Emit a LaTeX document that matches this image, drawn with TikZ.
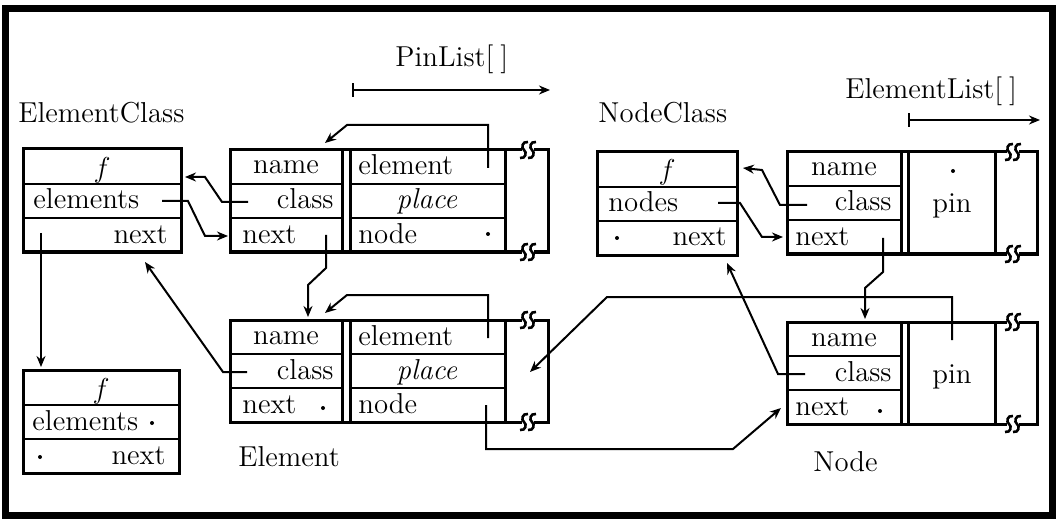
\documentclass[tikz,border=0pt]{standalone}
\usetikzlibrary{arrows.meta}
\newcommand\BrkMark[2]{%
  \foreach \dd in {-4,4}{%
    \draw[brk] ({#1+\dd-4},{#2+8}) .. controls ({#1+\dd+2},{#2+9}) and ({#1+\dd+3},{#2+2}) .. ({#1+\dd},{#2}) .. controls ({#1+\dd-3},{#2-2}) and ({#1+\dd-2},{#2-9}) .. ({#1+\dd+4},{#2-8});}}
\newcommand\ElemBox[3]{%
  \begin{scope}[shift={(#2,#3)}]
    \draw[outl] (292,0) -- (0,0) -- (0,102) -- (292,102);
    \draw[outl] (304,0) -- (318,0) -- (318,102) -- (304,102);
    \BrkMark{298}{0}\BrkMark{298}{102}
    \draw[outl] (112,0) -- (112,102) (120,0) -- (120,102) (275,0) -- (275,102);
    \draw[rowl] (0,34) -- (112,34) (120,34) -- (275,34) (0,68) -- (112,68) (120,68) -- (275,68);
    \node[fld]  (#1name)    at (56,24)  {name};
    \node[flde] (#1class)   at (104,59) {class};
    \node[fldw] (#1next)    at (12,93)  {next};
    \node[fldw] (#1element) at (128,25) {element};
    \node[fld]  (#1place)   at (197,59) {\textit{place}};
    \node[fldw] (#1node)    at (128,93) {node};
  \end{scope}}
\newcommand\NodeBox[3]{%
  \begin{scope}[shift={(#2,#3)}]
    \draw[outl] (220,0) -- (0,0) -- (0,102) -- (220,102);
    \draw[outl] (232,0) -- (250,0) -- (250,102) -- (232,102);
    \BrkMark{226}{0}\BrkMark{226}{102}
    \draw[outl] (114,0) -- (114,102) (121,0) -- (121,102) (208,0) -- (208,102);
    \draw[rowl] (0,34) -- (114,34) (0,68) -- (114,68);
    \node[fld]  (#1name)  at (57,24)  {name};
    \node[flde] (#1class) at (105,59) {class};
    \node[fldw] (#1next)  at (8,93)   {next};
    \node[fld]  (#1pin)   at (165,61) {pin};
  \end{scope}}
\newcommand\ClassBox[4]{%
  \begin{scope}[shift={(#2,#3)}]
    \draw[outl] (0,0) rectangle (#4,103);
    \draw[rowl] (0,35) -- (#4,35) (0,69) -- (#4,69);
    \node[fld] (#1f) at ({#4/2},28) {$f$};
  \end{scope}}
\begin{document}
\begin{tikzpicture}[x=0.5pt,y=-0.5pt,
  font=\fontsize{14.4}{17}\selectfont,
  frame/.style={line width=3.5pt},
  outl/.style={line width=1.5pt},
  rowl/.style={line width=1.2pt},
  brk/.style={line width=1.3pt},
  ptr/.style={line width=1pt,-{Stealth[length=5.5pt,width=4.5pt]}},
  fld/.style={inner sep=0pt,anchor=base},
  fldw/.style={inner sep=0pt,anchor=base west},
  flde/.style={inner sep=0pt,anchor=base east},
  nil/.style={circle,fill,inner sep=0pt,minimum size=2pt}]
\useasboundingbox (0,0) rectangle (1056,519);
\draw[frame] (5,9) rectangle (1052,515);

% labels
\node[fldw] (lEC) at (18,123) {ElementClass};
\node[fldw] (lNC) at (598,123) {NodeClass};
\node[fldw] (lPL) at (395,67) {PinList[\hspace{3.5pt}]};
\node[fldw] (lEL) at (845,99) {ElementList[\hspace{3.5pt}]};
\node[fldw] (lE) at (238,466) {Element};
\node[fldw] (lN) at (813,471) {Node};

% index arrows
\coordinate (plA) at (352,90); \coordinate (plB) at (550,90);
\draw[line width=1pt,{Bar[width=7pt]}-{Stealth[length=5.5pt,width=4.5pt]}] (plA) -- (plB);
\coordinate (elA) at (908,120); \coordinate (elB) at (1040,120);
\draw[line width=1pt,{Bar[width=7pt]}-{Stealth[length=5.5pt,width=4.5pt]}] (elA) -- (elB);

% structures
\ClassBox{EC1}{23}{149}{158}
\node[fldw] (EC1elements) at (33,209) {elements};
\node[flde] (EC1next) at (168,243) {next};
\ClassBox{EC2}{23}{370}{156}
\node[fldw] (EC2elements) at (32,430) {elements};
\node[flde] (EC2next) at (166,464) {next};
\node[nil] (EC2eldot) at (152,423) {};
\node[nil] (EC2nxdot) at (40,457) {};
\ClassBox{NC}{597}{152}{140}
\node[fldw] (NCnodes) at (608,212) {nodes};
\node[flde] (NCnext) at (727,246) {next};
\node[nil] (NCnxdot) at (617,238) {};

\ElemBox{E1}{230}{150}
\ElemBox{E2}{230}{320}
\node[nil] (E1nodedot) at (488,234) {};
\node[nil] (E2nextdot) at (323,408) {};

\NodeBox{N1}{787}{152}
\NodeBox{N2}{787}{322}
\node[nil] (N1pindot) at (953,171) {};
\node[nil] (N2nextdot) at (880,411) {};

% pointer origins and targets
\coordinate (pEC1el) at (162,201);  \coordinate (tE1nx) at (228,236);
\coordinate (pE1cl) at (248,202);   \coordinate (tEC1a) at (185,177);
\coordinate (pE1el) at (488,168);   \coordinate (tE1top) at (325,143);
\coordinate (pE1nx) at (326,235);   \coordinate (tE2top) at (308,317);
\coordinate (pE2el) at (488,338);   \coordinate (tE2topb) at (325,313);
\coordinate (pE2cl) at (247,372);   \coordinate (tEC1b) at (145,262);
\coordinate (pE2nd) at (486,405);   \coordinate (tN2nx) at (781,408);
\coordinate (pEC1nx) at (41,233);   \coordinate (tEC2) at (41,367);
\coordinate (pNCnd) at (718,203);   \coordinate (tN1nx) at (783,237);
\coordinate (pN1cl) at (807,205);   \coordinate (tNCa) at (743,168);
\coordinate (pN1nx) at (883,238);   \coordinate (tN2top) at (865,319);
\coordinate (pN2cl) at (805,374);   \coordinate (tNCb) at (727,263);
\coordinate (pN2pin) at (952,340);  \coordinate (tE2mid) at (530,372);

\draw[ptr] (pEC1el) -- (188,201) -- (205,236) -- (tE1nx);
\draw[ptr] (pE1cl) -- (222,202) -- (205,177) -- (tEC1a);
\draw[ptr] (pE1el) -- (488,125) -- (347,125) -- (tE1top);
\draw[ptr] (pE1nx) -- (326,268) -- (308,285) -- (tE2top);
\draw[ptr] (pE2el) -- (488,295) -- (347,295) -- (tE2topb);
\draw[ptr] (pE2cl) -- (223,372) -- (tEC1b);
\draw[ptr] (pE2nd) -- (486,449) -- (733,449) -- (tN2nx);
\draw[ptr] (pEC1nx) -- (tEC2);
\draw[ptr] (pNCnd) -- (740,203) -- (762,237) -- (tN1nx);
\draw[ptr] (pN1cl) -- (780,205) -- (762,170) -- (tNCa);
\draw[ptr] (pN1nx) -- (883,272) -- (865,288) -- (tN2top);
\draw[ptr] (pN2cl) -- (778,374) -- (tNCb);
\draw[ptr] (pN2pin) -- (952,297) -- (607,297) -- (tE2mid);
\end{tikzpicture}
\end{document}
